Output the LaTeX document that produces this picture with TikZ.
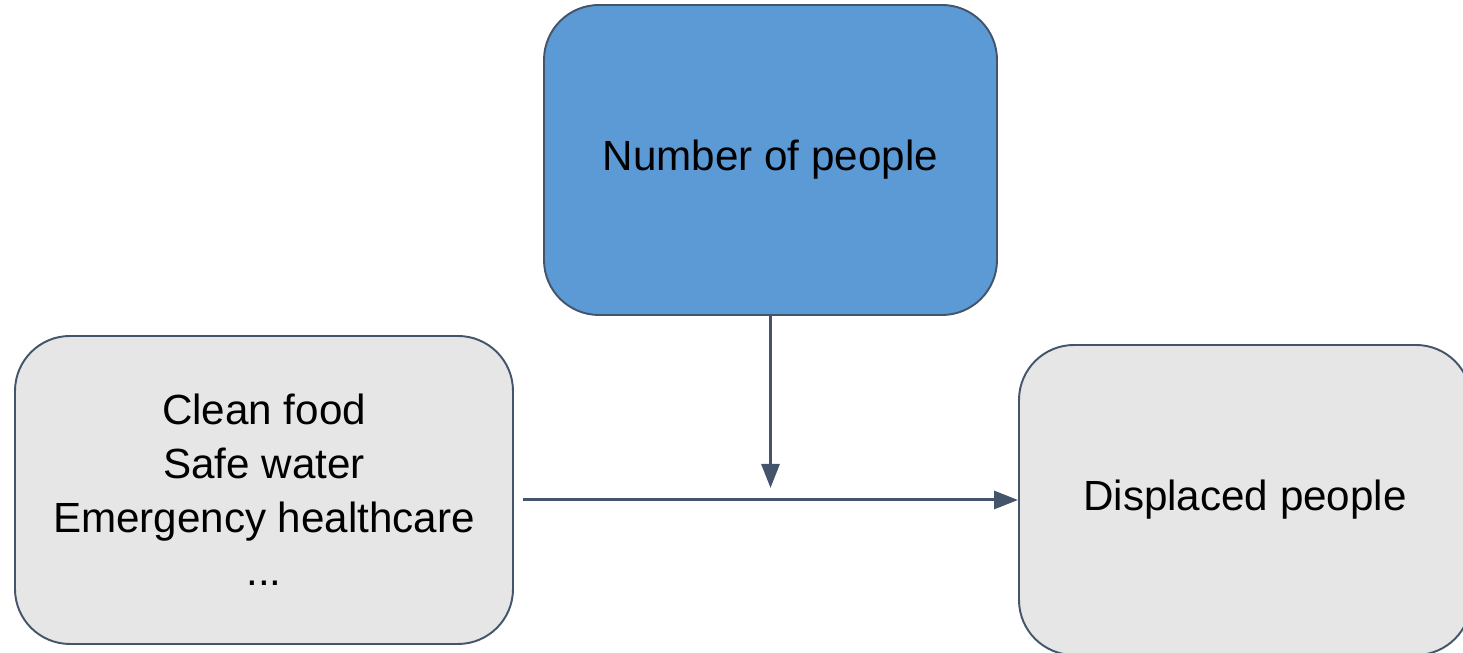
\documentclass[tikz,border=0pt]{standalone}
\usepackage{fontspec}
\setmainfont{Liberation Sans}
\usetikzlibrary{arrows.meta}
\definecolor{boxblue}{HTML}{5B9AD5}
\definecolor{boxgray}{HTML}{E6E6E6}
\definecolor{edgeslate}{HTML}{44546A}
\begin{document}
\begin{tikzpicture}[
    factor/.style={draw=edgeslate, line width=1.1pt, rounded corners=1.1cm, align=center,
                   font=\fontsize{24}{30.5}\selectfont, inner sep=0pt},
    flow/.style={-{Triangle[length=0.48cm,width=0.36cm]}, draw=edgeslate, line width=1.7pt}
  ]
              \useasboundingbox (0,0) rectangle (29.26,13.06);

              \node [factor, fill=boxblue, minimum width=9.06cm, minimum height=6.2cm] (Count) at (15.41,9.86) {Number of people};
              \node [factor, fill=boxgray, minimum width=9.96cm, minimum height=6.16cm] (Needs) at (5.28,3.26) {Clean food\\Safe water\\Emergency healthcare\\...};
              \node [factor, fill=boxgray, minimum width=9.04cm, minimum height=6.2cm] (Displaced) at (24.9,3.06) {Displaced people};

                \coordinate (Meet) at (Count.south |- Displaced.west);

              \draw[flow, shorten <= 0.18cm] (Needs.east |- Displaced.west) -- (Displaced.west);
              \draw[flow, shorten >= 0.24cm] (Count.south) -- (Meet);
            \end{tikzpicture}
\end{document}
